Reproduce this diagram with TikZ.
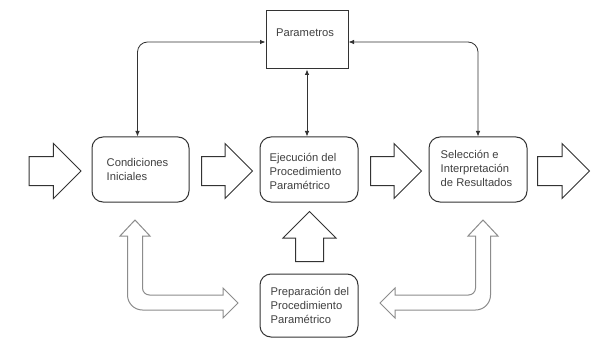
\documentclass[tikz,border=0pt]{standalone}
\usepackage{fontspec}
\setmainfont{Liberation Sans}
\usetikzlibrary{arrows.meta,shapes.arrows}
\tikzset{mytip/.tip={Latex[length=5.5pt,width=4.5pt]}}
\begin{document}
\begin{tikzpicture}[x=1pt,y=-1pt,
  box/.style={draw=black!80, line width=1pt, rounded corners=11pt, fill=white},
  sqbox/.style={draw=black!80, line width=1pt, fill=white},
  txt/.style={font=\fontsize{11.2}{13.6}\selectfont, text=black!75, align=left, inner sep=0pt, anchor=west},
  conn/.style={draw=black!80, line width=0.8pt, rounded corners=10pt},
  blk/.style={single arrow, draw=black!80, line width=1pt, fill=white, inner xsep=0pt, inner ysep=14pt,
              single arrow head extend=13pt, minimum height=52pt, minimum width=54pt, anchor=tail},
  lar/.style={draw=black!45, line width=1pt, fill=white, line join=miter}
]
\useasboundingbox[fill=white] (0,0) rectangle (593,339);

% boxes
\node[sqbox, minimum width=82pt, minimum height=58pt] (par) at (307,40) {};
\node[box, minimum width=97pt, minimum height=65pt] (cond) at (140.5,169.5) {};
\node[box, minimum width=98pt, minimum height=65pt] (ejec) at (309,169.5) {};
\node[box, minimum width=98pt, minimum height=65pt] (sel) at (478,169.5) {};
\node[box, minimum width=98pt, minimum height=63pt] (prep) at (309,305.5) {};

% texts
\node[txt, anchor=center] (part) at (305,33) {Parametros};
\node[txt] (condt) at ([xshift=15pt]cond.west) {Condiciones\\Iniciales};
\node[txt] (eject) at ([xshift=10pt,yshift=-2pt]ejec.west) {Ejecución del\\Procedimiento\\Paramétrico};
\node[txt] (selt) at ([xshift=12pt,yshift=1pt]sel.west) {Selección e\\Interpretación\\de Resultados};
\node[txt] (prept) at ([xshift=11pt]prep.west) {Preparación del\\Procedimiento\\Paramétrico};

% connectors
\draw[conn, mytip-mytip] ([yshift=-2pt]par.west) -| ([xshift=-3pt]cond.north);
\draw[conn, mytip-mytip] ([yshift=-2pt]par.east) -| (sel.north);
\draw[conn, mytip-mytip] (par.south) -- (par.south |- ejec.north);

% block arrows
\node[blk] (a1) at (28.5,171) {};
\node[blk, minimum height=51pt] (a2) at (201,171) {};
\node[blk, minimum height=51pt] (a3) at (370,171) {};
\node[blk] (a4) at (537,171) {};
\node[blk, rotate=90, inner ysep=13.5pt, minimum height=50pt, minimum width=52pt,
      single arrow head extend=12.5pt] (a5) at (309.5,262) {};

% L-shaped double arrows
\draw[lar] (135,220) -- (150,236) -- (142.5,236) -- (142.5,288)
  .. controls (142.5,291.9) and (145.6,295) .. (149.5,295) -- (223,295)
  -- (223,288) -- (238,303) -- (223,318) -- (223,310) -- (142.5,310)
  .. controls (134.2,310) and (127.5,303.3) .. (127.5,295) -- (127.5,236)
  -- (120,236) -- cycle;
\draw[lar] (483,220) -- (498,236) -- (490.5,236) -- (490.5,295)
  .. controls (490.5,303.3) and (483.8,310) .. (475.5,310) -- (395,310)
  -- (395,318) -- (380,303) -- (395,288) -- (395,295) -- (468.5,295)
  .. controls (472.4,295) and (475.5,291.9) .. (475.5,288) -- (475.5,236)
  -- (468,236) -- cycle;
\end{tikzpicture}
\end{document}
